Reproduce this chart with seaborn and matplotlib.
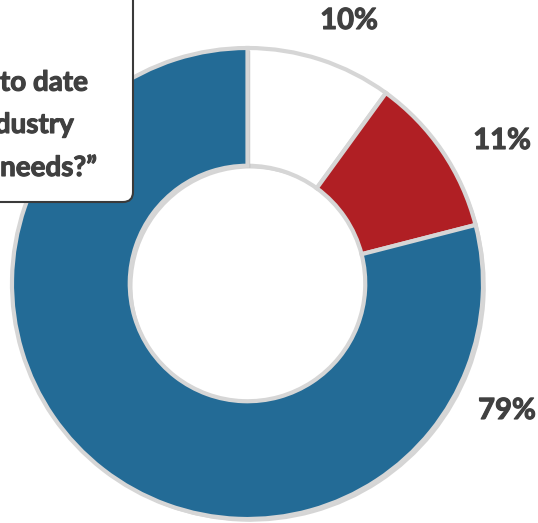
import matplotlib
matplotlib.use("Agg")
import matplotlib.pyplot as plt
import matplotlib.patches as mpatches
import matplotlib.patheffects as pe
from matplotlib.transforms import IdentityTransform
import seaborn as sns

# Data
labels = ["10%", "11%", "79%"]
values = [10, 11, 79]
colors = ["#FFFFFF", "#B01F24", "#236B96"]
question_lines = ["“Is the curriculum up to date", "with current industry", "and workforce needs?”"]

sns.set_theme(style="white")
plt.rcParams["font.family"] = ["Lato", "DejaVu Sans"]

W, H = 538, 523
fig = plt.figure(figsize=(W / 100, H / 100), dpi=100)
ax = fig.add_axes([0, 0, 1, 1])

cx, cy, R = 247.5, 283.5, 235.5  # pixel center (from top) and radius
wedges, _ = ax.pie(
    values,
    colors=colors,
    startangle=90,
    counterclock=False,
    radius=1.0,
    wedgeprops=dict(width=0.5, edgecolor="#D6D6D6", linewidth=3,
                    path_effects=[pe.SimplePatchShadow(offset=(2, -2), shadow_rgbFace="#888888", alpha=0.35),
                                  pe.Normal()]),
)
ax.set_aspect("auto")
ax.set_xlim(-cx / R, (W - cx) / R)
ax.set_ylim(-(H - cy) / R, cy / R)
ax.axis("off")

bold_fx = [pe.withStroke(linewidth=0.8, foreground="#404040")]

# Percent labels
label_pos = [(349, 21), (502, 141), (507, 411)]
for lab, (px, py) in zip(labels, label_pos):
    fig.text(px / W, 1 - py / H, lab, ha="center", va="center",
             fontsize=21, fontweight="bold", color="#404040", path_effects=bold_fx)

# Question box (partially off-canvas at top-left)
box = mpatches.FancyBboxPatch((-250, H - 202), 250 + 133, 300,
                              boxstyle="round,pad=0,rounding_size=10",
                              transform=IdentityTransform(),
                              facecolor="white", edgecolor="#3A3A3A", linewidth=1.5,
                              zorder=5)
fig.patches.append(box)

line_pos = [(88, 82), (74, 125), (97, 168)]
for txt, (px, py) in zip(question_lines, line_pos):
    fig.text(px / W, 1 - py / H, txt, ha="right", va="center",
             fontsize=20, fontweight="bold", color="#404040", zorder=6,
             path_effects=bold_fx)

fig.savefig("out.png", dpi=100)
